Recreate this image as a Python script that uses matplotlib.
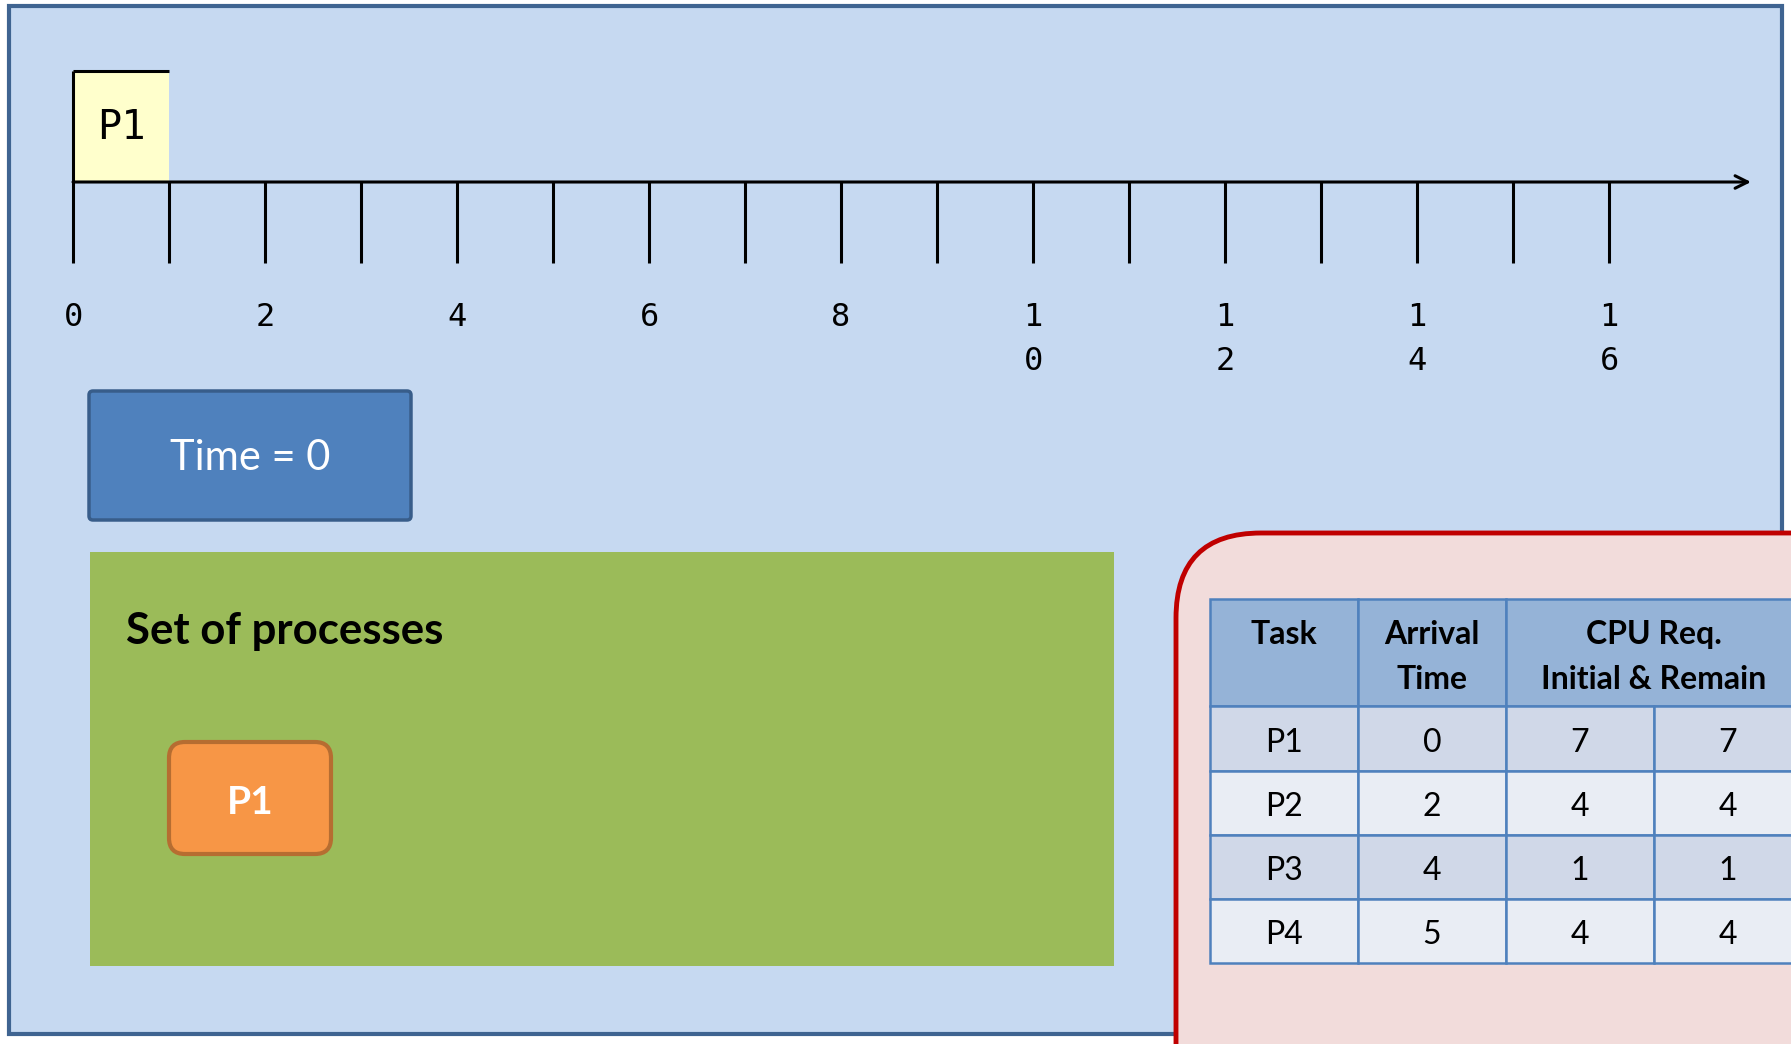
import numpy as np
import matplotlib.pyplot as plt
from matplotlib.patches import Rectangle, FancyBboxPatch

# Chart data
tick_times = list(range(0, 17))
label_times = tick_times[::2]
gantt_tasks = ["P1"]
gantt_start = [0]
gantt_dur = [1]
current_time = 0
ready_set = ["P1"]

tasks = ["P1", "P2", "P3", "P4"]
arrival = [0, 2, 4, 5]
cpu_initial = [7, 4, 1, 4]
cpu_remain = [7, 4, 1, 4]
header = ["Task", "Arrival\nTime", "CPU Req.\nInitial & Remain"]

W, H = 1791, 1044
fig = plt.figure(figsize=(W / 100, H / 100), dpi=100)
fig.patch.set_facecolor("white")

# layout axes in pixel units
ax = fig.add_axes([0, 0, 1, 1])
ax.set_xlim(0, W)
ax.set_ylim(H, 0)
ax.axis("off")

sans = ["Lato", "DejaVu Sans"]
mono = ["DejaVu Sans Mono"]

# outer frame
ax.add_patch(Rectangle((9, 6), 1773, 1028, facecolor="#c6d9f1",
                       edgecolor="#3f6491", lw=3, zorder=1))

# time box
ax.add_patch(FancyBboxPatch((89, 391), 322, 129, boxstyle="round,pad=0,rounding_size=4",
                            facecolor="#4f81bd", edgecolor="#385d8a", lw=2.5, zorder=2))
ax.text(250, 458, f"Time = {current_time}", color="white", fontsize=30,
        family=sans, ha="center", va="center", zorder=3)

# set of processes
ax.add_patch(Rectangle((90, 552), 1024, 414, facecolor="#9bbb59", edgecolor="none", zorder=2))
ax.text(126, 631, "Set of processes", fontsize=31.5, fontweight="bold",
        family=sans, ha="left", va="center", zorder=3)
for i, name in enumerate(ready_set):
    x0 = 169 + i * 200
    ax.add_patch(FancyBboxPatch((x0, 742), 162, 112, boxstyle="round,pad=0,rounding_size=16",
                                facecolor="#f79646", edgecolor="#b66d31", lw=3, zorder=3))
    ax.text(x0 + 81, 802, name, color="white", fontsize=28, fontweight="bold",
            family=sans, ha="center", va="center", zorder=4)

# task table on red rounded panel
ax.add_patch(FancyBboxPatch((1176, 533), 700, 600, boxstyle="round,pad=0,rounding_size=85",
                            facecolor="#f2dcdb", edgecolor="#c00000", lw=3.5, zorder=4))
col_edges = [1210, 1358, 1506, 1654, 1802]
row_edges = [599, 706, 771, 835, 899, 963]
grid_c = "#4f81bd"
hdr_spans = [(0, 1), (1, 2), (2, 4)]
for (a, b), txt in zip(hdr_spans, header):
    x0, x1 = col_edges[a], col_edges[b]
    ax.add_patch(Rectangle((x0, row_edges[0]), x1 - x0, row_edges[1] - row_edges[0],
                           facecolor="#95b3d7", edgecolor=grid_c, lw=1.8, zorder=5))
    ty = 634 if "\n" not in txt else 657
    ax.text((x0 + x1) / 2, ty, txt, fontsize=23, fontweight="bold", family=sans,
            ha="center", va="center", linespacing=1.63, zorder=6)

rows = list(zip(tasks, arrival, cpu_initial, cpu_remain))
for r, vals in enumerate(rows):
    y0, y1 = row_edges[r + 1], row_edges[r + 2]
    fc = "#d0d8e8" if r % 2 == 0 else "#e9edf4"
    for c, v in enumerate(vals):
        x0, x1 = col_edges[c], col_edges[c + 1]
        ax.add_patch(Rectangle((x0, y0), x1 - x0, y1 - y0, facecolor=fc,
                               edgecolor=grid_c, lw=1.8, zorder=5))
        ax.text((x0 + x1) / 2, (y0 + y1) / 2 + 4, str(v), fontsize=23, family=sans,
                ha="center", va="center", zorder=6)

# timeline axes: x in time units, y in pixels
px0, unit = 73, 96
axt = fig.add_axes([0, 0, 1, 1], zorder=2)
axt.set_xlim(-px0 / unit, (W - px0) / unit)
axt.set_ylim(H, 0)
axt.axis("off")
axt.patch.set_alpha(0)

y_axis, y_top, y_tick = 182, 71, 263
t_end = (1751 - px0) / unit
axt.bar(gantt_start, y_axis - y_top, width=gantt_dur, bottom=y_top, align="edge",
        color="#ffffcc", edgecolor="none", zorder=1)
for name, s, d in zip(gantt_tasks, gantt_start, gantt_dur):
    axt.hlines(y_top, s, s + d, color="black", lw=2.2, zorder=3)
    axt.vlines(s, y_top, y_axis, color="black", lw=2.2, zorder=3)
    axt.text(s + d / 2, 128, name, fontsize=29, family=mono,
             ha="center", va="center", zorder=3)

axt.annotate("", xy=(t_end, y_axis), xytext=(0, y_axis),
             arrowprops=dict(arrowstyle="->,head_length=0.9,head_width=0.45",
                             color="black", lw=2.2, shrinkA=0, shrinkB=0), zorder=3)
axt.vlines(tick_times, y_axis, y_tick, color="black", lw=2.2, zorder=3)
for t in label_times:
    axt.text(t, 302, "\n".join(str(t)), fontsize=23, family=mono,
             ha="center", va="top", linespacing=1.55, zorder=3)

fig.savefig("out.png", dpi=100)
